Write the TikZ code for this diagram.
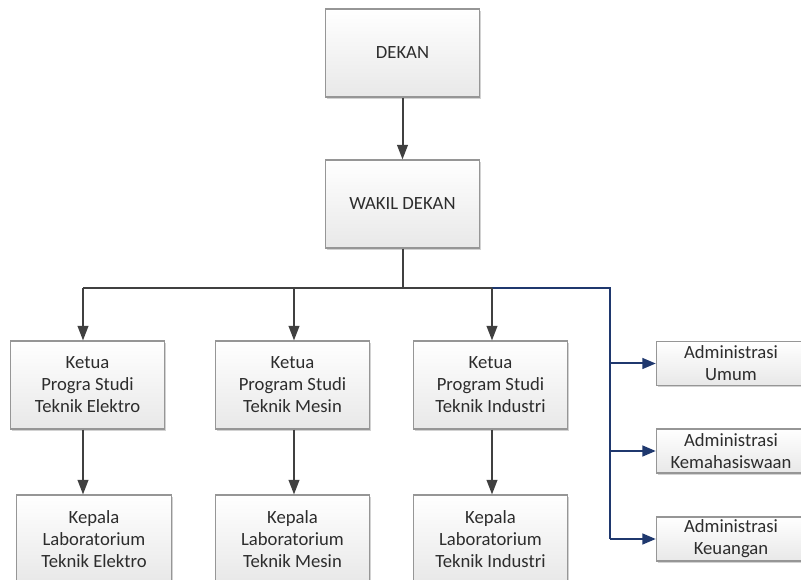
\documentclass[tikz,border=0pt]{standalone}
\usepackage{fontspec}
\setmainfont{Carlito}
\usetikzlibrary{arrows.meta,shadows}

\definecolor{boxline}{RGB}{150,150,150}
\definecolor{arrgray}{RGB}{64,64,64}
\definecolor{navyline}{RGB}{31,56,110}
\definecolor{boxtext}{RGB}{45,45,45}

\tikzset{
  box/.style={draw=boxline, line width=0.8pt, top color=white, bottom color=gray!18,
    drop shadow={shadow xshift=1.2pt, shadow yshift=-1.2pt, opacity=0.35},
    align=center, text=boxtext, font=\fontsize{14}{16.5}\selectfont, inner sep=0pt},
  bigbox/.style={box, minimum width=115pt, minimum height=66pt},
  prodi/.style={box, minimum width=116pt, minimum height=66pt},
  admbox/.style={box, minimum width=112pt, minimum height=33pt},
  link/.style={arrgray, line width=1.5pt},
  arr/.style={link, -{Triangle[length=11pt,width=8pt]}},
  navylink/.style={navyline, line width=1.5pt},
  navyarr/.style={navylink, -{Triangle[length=10pt,width=8pt]}},
}

\begin{document}
\begin{tikzpicture}[x=0.75pt, y=-0.75pt]
                \fill[white] (0,0) rectangle (801,580);
                \useasboundingbox (0,0) rectangle (801,580);
                \clip (0,0) rectangle (801,580);

                % pimpinan
                \node[bigbox] (dekan) at (402.5,53) {DEKAN};
                \node[bigbox] (wakil) at (402.5,204) {WAKIL DEKAN};

                % ketua program studi
                \node[prodi] (kpsE) at (87.5,385) {Ketua\\Progra Studi\\Teknik Elektro};
                \node[prodi] (kpsM) at (292.5,385) {Ketua\\Program Studi\\Teknik Mesin};
                \node[prodi] (kpsI) at (490.5,385) {Ketua\\Program Studi\\Teknik Industri};

                % kepala laboratorium
                \node[prodi] (labE) at (94,539) {Kepala\\Laboratorium\\Teknik Elektro};
                \node[prodi] (labM) at (292.5,539) {Kepala\\Laboratorium\\Teknik Mesin};
                \node[prodi] (labI) at (490.5,539) {Kepala\\Laboratorium\\Teknik Industri};

                % administrasi
                \node[admbox] (admU) at (731,363.5) {Administrasi\\Umum};
                \node[admbox] (admK) at (731,451) {Administrasi\\Kemahasiswaan};
                \node[admbox] (admC) at (731,539) {Administrasi\\Keuangan};

                \coordinate (busE) at (83,288);
                \coordinate (busM) at (294,288);
                \coordinate (busI) at (492,288);
                \coordinate (busA) at (610,288);

                \draw[arr] (dekan) -- (wakil);
                \draw[link] (wakil.south) -- (wakil.south |- busE);
                \draw[link] (busE) -- (busI);
                \draw[navylink] (busI) -- (busA) -- (busA |- admC);

                \draw[arr] (busE) -- (busE |- kpsE.north);
                \draw[arr] (busM) -- (busM |- kpsM.north);
                \draw[arr] (busI) -- (busI |- kpsI.north);

                \draw[arr] (kpsE.south -| busE) -- (labE.north -| busE);
                \draw[arr] (kpsM.south -| busM) -- (labM.north -| busM);
                \draw[arr] (kpsI.south -| busI) -- (labI.north -| busI);

                \draw[navyarr] (busA |- admU) -- (admU);
                \draw[navyarr] (busA |- admK) -- (admK);
                \draw[navyarr] (busA |- admC) -- (admC);
\end{tikzpicture}
\end{document}
